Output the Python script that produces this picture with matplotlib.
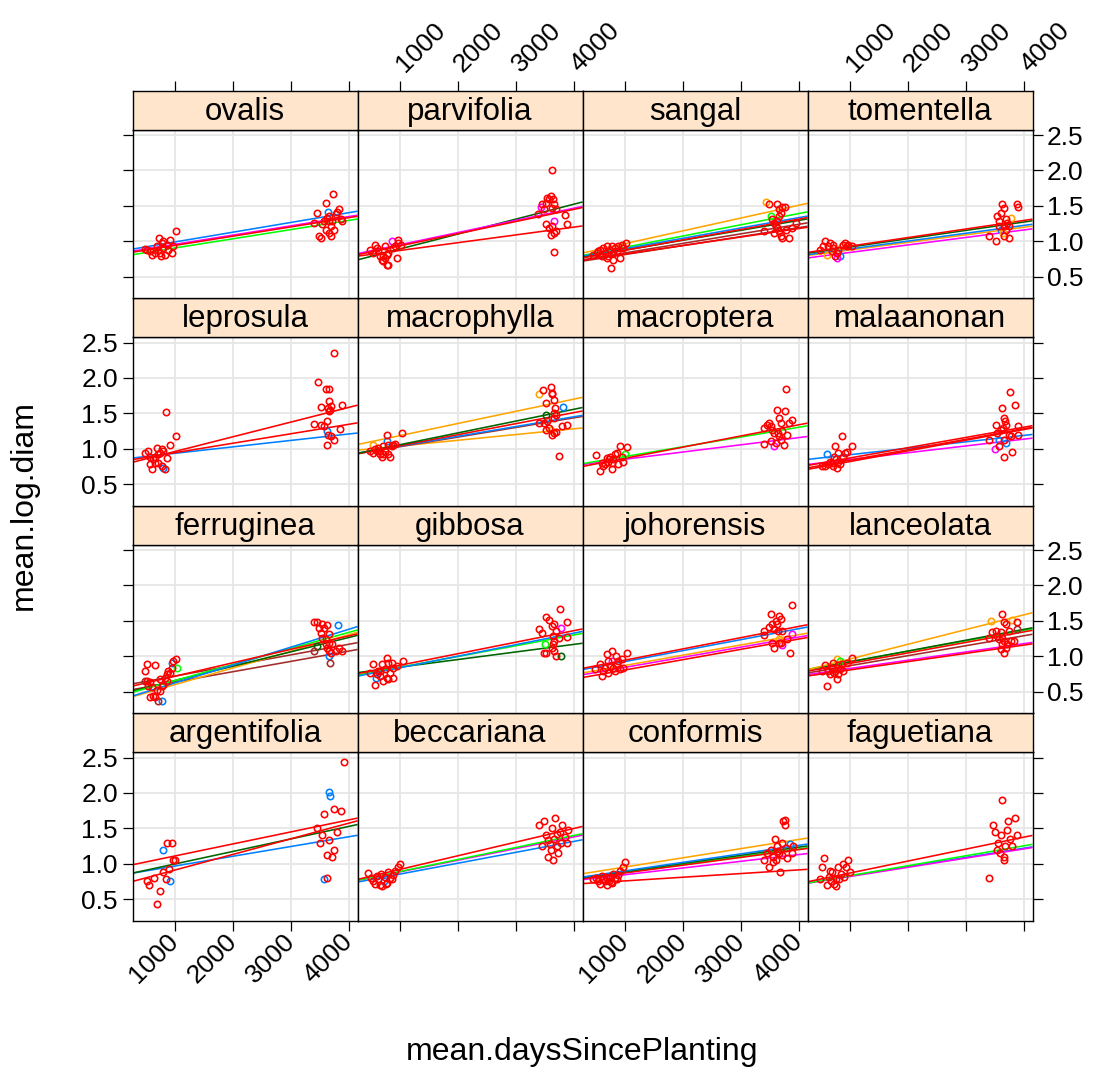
import numpy as np
import matplotlib
matplotlib.use("Agg")
import matplotlib.pyplot as plt

plt.rcParams['font.family'] = ['Liberation Sans', 'DejaVu Sans']

# lattice superpose colours, keyed by short code
PALETTE = {"b": "#0080ff", "m": "#ff00ff", "g": "#006400", "r": "#ff0000",
           "o": "#ffa500", "l": "#00ff00", "n": "#a52a2a"}

# panel order (lattice fills from the bottom-left row upward)
species = ["argentifolia", "beccariana", "conformis", "faguetiana",
           "ferruginea", "gibbosa", "johorensis", "lanceolata",
           "leprosula", "macrophylla", "macroptera", "malaanonan",
           "ovalis", "parvifolia", "sangal", "tomentella"]

x_ticks = [1000, 2000, 3000, 4000]
y_ticks = [0.5, 1.0, 1.5, 2.0, 2.5]
XLIM = (271, 4146)
YLIM = (0.199, 2.578)

# ---- per-species observations: days, mean log diameter, group colour code
# ---- and fitted lines: (colour code, intercept, slope per 1000 days)

ovalis_x = [515, 600, 686, 732, 743, 772, 800, 829, 857, 886, 914, 943, 960, 1017, 572, 657, 755, 800, 715, 486,
            3398, 3455, 3484, 3512, 3541, 3570, 3598, 3598, 3627, 3638, 3655, 3655, 3684, 3712, 3724, 3741, 3769,
            3798, 3827, 3855, 3884, 3684, 3655]
ovalis_y = [0.88, 0.80, 0.93, 1.05, 0.84, 0.98, 0.91, 0.81, 0.95, 0.88, 1.02, 0.84, 0.93, 1.14, 0.86, 0.84, 0.79, 1.00, 0.88, 0.89,
            1.26, 1.40, 1.07, 1.05, 1.24, 1.28, 1.54, 1.16, 1.33, 1.42, 1.35, 1.12, 1.21, 1.28, 1.67, 1.16, 1.38,
            1.42, 1.45, 1.31, 1.28, 1.07, 1.28]
ovalis_c = "rrrrrrrrrrrrrrrrrrrr" + "rrrrrrrrrbrrrrrrrrrrrrr"
ovalis_fits = [("l", 0.775, 0.130), ("m", 0.825, 0.131), ("b", 0.852, 0.138), ("r", 0.810, 0.131)]

parvifolia_x = [486, 543, 572, 600, 629, 657, 686, 715, 743, 772, 772, 800, 800, 857, 886, 914, 943, 960, 971, 1017, 715, 743,
                3381, 3427, 3455, 3484, 3512, 3541, 3570, 3598, 3627, 3627, 3644, 3655, 3655, 3512, 3570, 3627, 3655,
                3684, 3598, 3838, 3884, 3655, 3684]
parvifolia_y = [0.88, 0.84, 0.95, 0.91, 0.86, 0.79, 0.74, 0.72, 0.93, 0.81, 0.67, 0.84, 0.67, 1.00, 0.91, 0.93, 0.76, 1.02, 0.98, 0.95, 0.79, 0.76,
                1.38, 1.49, 1.52, 1.45, 1.54, 1.61, 1.59, 1.64, 2.01, 1.47, 1.59, 0.85, 1.28, 1.24, 1.19, 1.21, 1.12,
                1.14, 1.09, 1.37, 1.24, 1.52, 1.45]
parvifolia_c = "rrrrrrrrrrrrrmrrrrrrrr" + "rmrrrrrrrrrrmrrrrrrrrrr"
parvifolia_fits = [("g", 0.680, 0.211), ("m", 0.779, 0.172), ("r", 0.763, 0.172), ("r", 0.760, 0.110)]

sangal_x = [458, 515, 543, 572, 600, 629, 657, 686, 715, 743, 755, 772, 800, 829, 857, 886, 914, 943, 971, 1017, 686, 800,
            3427, 3484, 3627, 3655, 3684, 3712, 3758, 3512, 3541, 3570, 3598, 3627, 3655, 3684, 3712, 3398, 3570,
            3769, 3827, 3884, 3941, 3627, 3655]
sangal_y = [0.81, 0.84, 0.86, 0.88, 0.79, 0.91, 0.84, 0.93, 0.79, 0.88, 0.62, 0.93, 0.84, 0.91, 0.86, 0.93, 0.76, 0.95, 0.91, 0.98, 0.76, 0.74,
            1.56, 1.52, 1.52, 1.45, 1.40, 1.49, 1.49, 1.35, 1.31, 1.26, 1.21, 1.19, 1.14, 1.07, 1.05, 1.14, 1.12,
            1.16, 1.05, 1.19, 1.26, 1.28, 1.35]
sangal_c = "rrrrrrrrrrrrrrrrrrrrrr" + "orrrrrrlrrrrrrrrrrrrrrr"
sangal_fits = [("o", 0.785, 0.181), ("l", 0.756, 0.159), ("b", 0.750, 0.146), ("g", 0.735, 0.140),
               ("r", 0.725, 0.147), ("n", 0.700, 0.135), ("n", 0.685, 0.127), ("r", 0.700, 0.120)]

tomentella_x = [486, 543, 572, 600, 629, 657, 686, 715, 743, 772, 800, 829, 857, 886, 914, 943, 971, 1029, 772, 715,
                3398, 3512, 3541, 3570, 3598, 3627, 3655, 3655, 3684, 3644, 3712, 3741, 3769, 3741, 3884, 3895,
                3655, 3598, 3684, 3570]
tomentella_y = [0.88, 0.93, 1.00, 0.81, 0.93, 0.98, 0.86, 0.91, 0.79, 0.76, 0.88, 0.79, 0.93, 0.95, 0.98, 0.93, 0.95, 0.93, 0.84, 0.95,
                1.08, 1.01, 1.35, 1.28, 1.40, 1.52, 1.47, 1.21, 1.31, 1.12, 1.26, 1.21, 1.33, 1.04, 1.52, 1.48,
                1.07, 1.16, 1.16, 1.21]
tomentella_c = "rrrorrrrrmrborrrrrrr" + "rrrrrrrrrorrorrrrbrr"
tomentella_fits = [("m", 0.736, 0.106), ("o", 0.770, 0.107), ("b", 0.780, 0.111), ("g", 0.800, 0.118), ("r", 0.810, 0.121)]

leprosula_x = [486, 543, 572, 600, 629, 657, 686, 715, 743, 772, 800, 800, 829, 857, 846, 914, 1017, 572, 657, 715, 772,
               3472, 3598, 3655, 3741, 3512, 3655, 3644, 3655, 3684, 3884, 3398, 3512, 3570, 3627, 3838, 3627,
               3644, 3684, 3615, 3741, 3672]
leprosula_y = [0.94, 0.97, 0.78, 0.71, 0.85, 0.89, 1.01, 0.80, 0.94, 0.75, 0.73, 0.97, 0.71, 0.87, 1.52, 1.05, 1.18, 0.89, 0.80, 0.92, 0.99,
               1.94, 1.84, 1.85, 2.35, 1.59, 1.68, 1.58, 1.53, 1.60, 1.62, 1.35, 1.33, 1.32, 1.39, 1.28, 1.25,
               1.20, 1.18, 1.05, 1.12, 1.55]
leprosula_c = "rrrrrrrrrrbrrrrrrrrrr" + "rrrrrrrrrrrrrrrbrrrrr"
leprosula_fits = [("b", 0.845, 0.091), ("r", 0.810, 0.134), ("r", 0.753, 0.208)]

macrophylla_x = [486, 543, 572, 600, 629, 657, 686, 715, 743, 772, 772, 800, 800, 829, 857, 886, 914, 1029, 543, 657, 715,
                 3398, 3472, 3598, 3627, 3655, 3615, 3512, 3667, 3815, 3512, 3541, 3398, 3484, 3512, 3570, 3655,
                 3655, 3684, 3627, 3655, 3684, 3741, 3798, 3884, 3598]
macrophylla_y = [0.97, 0.94, 0.99, 0.97, 1.01, 0.92, 0.89, 1.04, 0.97, 1.20, 1.11, 0.92, 1.06, 0.89, 1.04, 1.06, 1.07, 1.22, 1.06, 0.97, 0.92,
                 1.77, 1.83, 1.87, 1.77, 1.69, 1.79, 1.64, 1.58, 1.59, 1.48, 1.39, 1.36, 1.37, 1.27, 1.29, 1.51,
                 1.44, 1.48, 1.20, 1.22, 1.23, 0.90, 1.32, 1.34, 1.26]
macrophylla_c = "rrrrrrrrrrbrrrrrrrorr" + "orrrrrrrbgrrrrrrrrrrrrrro"
macrophylla_fits = [("o", 0.958, 0.081), ("n", 0.893, 0.136), ("b", 0.900, 0.138), ("r", 0.887, 0.156),
                    ("g", 0.890, 0.167), ("o", 1.013, 0.172)]

macroptera_x = [503, 572, 600, 629, 686, 715, 743, 772, 783, 800, 829, 857, 886, 914, 943, 971, 1040, 657, 732, 1000,
                3398, 3455, 3484, 3512, 3541, 3570, 3627, 3655, 3684, 3752, 3781, 3598, 3570, 3398, 3512, 3684,
                3741, 3798, 3827, 3884, 3638, 3655, 3712]
macroptera_y = [0.91, 0.68, 0.80, 0.75, 0.87, 0.82, 0.89, 0.80, 0.72, 0.85, 0.92, 0.94, 0.78, 1.04, 0.89, 0.82, 1.02, 0.78, 0.85, 0.93,
                1.29, 1.34, 1.37, 1.32, 1.27, 1.22, 1.55, 1.44, 1.37, 1.54, 1.85, 1.08, 1.04, 1.07, 1.11, 1.13,
                1.05, 1.19, 1.36, 1.41, 1.22, 1.18, 1.25]
macroptera_c = "rrrrrrrrrrrrrrrrrrrl" + "rrrrrrrrrrrrmrrrrrrrrrr"
macroptera_fits = [("m", 0.750, 0.102), ("l", 0.752, 0.138), ("r", 0.707, 0.158)]

malaanonan_x = [515, 600, 629, 686, 715, 743, 760, 772, 789, 800, 829, 857, 886, 914, 943, 1029, 572, 657, 732,
                3398, 3512, 3541, 3570, 3598, 3627, 3655, 3672, 3684, 3644, 3655, 3684, 3570, 3495, 3655, 3798,
                3758, 3838, 3895, 3895, 3741, 3769]
malaanonan_y = [0.75, 0.93, 0.78, 0.80, 0.75, 1.04, 0.85, 0.73, 0.94, 0.82, 0.78, 1.18, 0.89, 0.94, 0.96, 1.04, 0.75, 0.82, 0.89,
                1.12, 1.33, 1.22, 1.13, 1.27, 1.57, 1.44, 1.39, 1.34, 1.29, 1.13, 1.08, 1.04, 0.99, 0.89, 0.96,
                1.80, 1.62, 1.32, 1.19, 1.20, 1.18]
malaanonan_c = "rbrrrrrrrrrrrrrrrrr" + "rrrbrrrrrrrbrmrrrrrrrr"
malaanonan_fits = [("b", 0.825, 0.091), ("m", 0.752, 0.096), ("r", 0.668, 0.151), ("r", 0.690, 0.148), ("r", 0.725, 0.145)]

ferruginea_x = [486, 515, 657, 515, 543, 572, 600, 629, 657, 686, 715, 743, 772, 772, 800, 829, 857, 886, 914, 943, 943, 971,
                1017, 1029, 572, 743, 857, 486,
                3398, 3455, 3484, 3541, 3570, 3627, 3655, 3815, 3512, 3541, 3598, 3627, 3655, 3684, 3655, 3672,
                3398, 3455, 3712, 3769, 3827, 3884, 3598, 3655]
ferruginea_y = [0.79, 0.89, 0.88, 0.65, 0.58, 0.63, 0.56, 0.44, 0.42, 0.53, 0.37, 0.51, 0.58, 0.37, 0.60, 0.70, 0.75, 0.79, 0.77, 0.91, 0.84, 0.93,
                0.96, 0.84, 0.42, 0.68, 0.65, 0.65,
                1.49, 1.49, 1.40, 1.45, 1.40, 1.44, 1.31, 1.44, 1.33, 1.26, 1.17, 1.12, 1.08, 1.05, 1.00, 0.91,
                1.08, 1.15, 1.17, 1.08, 1.12, 1.08, 1.24, 1.19]
ferruginea_c = "rrrrrrrrrrnrrbrrrrrbrrrlrrrn" + "rrrrrrrbrrrrrrbnngrrrrrr"
ferruginea_fits = [("n", 0.490, 0.146), ("n", 0.570, 0.150), ("o", 0.365, 0.235), ("g", 0.454, 0.203),
                   ("l", 0.430, 0.227), ("b", 0.370, 0.253), ("r", 0.528, 0.190)]

gibbosa_x = [486, 543, 572, 600, 629, 657, 686, 715, 743, 772, 772, 800, 829, 857, 886, 886, 943, 1057, 583, 657, 800,
             3398, 3455, 3512, 3570, 3627, 3655, 3684, 3644, 3752, 3884, 3884, 3781, 3741, 3501, 3484, 3512,
             3644, 3655, 3684, 3769, 3627, 3655]
gibbosa_y = [0.77, 0.89, 0.60, 0.75, 0.79, 0.72, 0.89, 0.65, 0.82, 0.98, 0.70, 0.91, 0.77, 0.91, 0.70, 0.84, 0.86, 0.94, 0.70, 0.79, 0.68,
             1.38, 1.33, 1.56, 1.51, 1.43, 1.45, 1.36, 1.29, 1.67, 1.48, 1.27, 1.40, 1.26, 1.17, 1.04, 1.04,
             1.17, 1.08, 1.00, 1.00, 1.12, 1.22]
gibbosa_c = "rrrrrrrrrrrrrrrrrrbrr" + "rrrrrrrrrrrmrlrrrrrgrr"
gibbosa_fits = [("g", 0.740, 0.107), ("l", 0.693, 0.152), ("b", 0.675, 0.163), ("r", 0.710, 0.163)]

johorensis_x = [486, 572, 600, 657, 686, 715, 743, 772, 800, 829, 846, 857, 914, 943, 971, 1040, 772, 629, 715, 886,
                3398, 3398, 3484, 3512, 3541, 3570, 3598, 3627, 3655, 3684, 3644, 3655, 3541, 3570, 3655, 3684,
                3701, 3798, 3838, 3884, 3884, 3712]
johorensis_y = [0.82, 0.89, 0.72, 0.84, 1.03, 0.93, 0.86, 1.08, 0.84, 0.79, 1.00, 0.89, 0.82, 0.96, 0.84, 1.04, 0.93, 0.79, 0.77, 0.93,
                1.36, 1.30, 1.41, 1.59, 1.45, 1.38, 1.50, 1.45, 1.57, 1.52, 1.36, 1.24, 1.19, 1.12, 1.19, 1.19,
                1.16, 1.24, 1.05, 1.72, 1.31, 1.36]
johorensis_c = "rrrrrrrrrrrrrrrrmrrr" + "rrrrrrrrrrrorrrrmrrrmr"
johorensis_fits = [("m", 0.700, 0.143), ("o", 0.725, 0.145), ("b", 0.770, 0.155), ("r", 0.660, 0.146), ("r", 0.786, 0.159)]

lanceolata_x = [515, 572, 600, 657, 686, 715, 743, 772, 772, 800, 829, 857, 886, 943, 1029, 629, 732, 800, 829,
                3427, 3627, 3655, 3684, 3798, 3884, 3398, 3455, 3512, 3541, 3570, 3598, 3627, 3655, 3684, 3655,
                3712, 3769, 3827, 3884, 3741, 3627, 3598]
lanceolata_y = [0.79, 0.87, 0.58, 0.75, 0.84, 0.91, 0.79, 0.96, 0.68, 0.75, 0.82, 0.89, 0.79, 0.91, 0.98, 0.79, 0.77, 0.87, 0.93,
                1.50, 1.60, 1.48, 1.45, 1.51, 1.49, 1.26, 1.34, 1.36, 1.29, 1.24, 1.34, 1.26, 1.21, 1.12, 1.04,
                1.17, 1.21, 1.22, 1.38, 1.36, 1.17, 1.10]
lanceolata_c = "rrrrrrrorrrrrrrrrrl" + "orrrorrrrrrrrrrrrrrnrrr"
lanceolata_fits = [("m", 0.710, 0.117), ("r", 0.690, 0.117), ("n", 0.726, 0.141), ("l", 0.775, 0.148),
                   ("g", 0.768, 0.153), ("r", 0.749, 0.149), ("o", 0.753, 0.208)]

argentifolia_x = [520, 560, 640, 700, 745, 790, 800, 850, 865, 900, 915, 950, 960, 1000,
                  3916, 3659, 3676, 3744, 3864, 3573, 3453, 3539, 3659, 3744, 3624, 3710, 3573, 3624, 3500, 3800]
argentifolia_y = [0.75, 0.70, 0.80, 0.43, 0.61, 1.20, 0.88, 0.78, 1.30, 0.92, 0.75, 1.30, 1.05, 1.05,
                  2.43, 2.01, 1.95, 1.77, 1.74, 1.70, 1.51, 1.41, 1.34, 1.20, 1.13, 1.10, 0.78, 0.80, 1.30, 1.45]
argentifolia_c = "rrrrrbrrrrbrrr" + "rbbrrrrrrrrrbrrr"
argentifolia_fits = [("b", 0.830, 0.138), ("g", 0.820, 0.177), ("r", 0.690, 0.221), ("r", 0.940, 0.170)]

beccariana_x = [450, 500, 540, 580, 620, 650, 680, 700, 720, 750, 780, 800, 830, 860, 890, 920, 960, 1000, 600, 760,
                3400, 3450, 3480, 3520, 3550, 3580, 3600, 3620, 3650, 3680, 3700, 3720, 3750, 3780, 3800, 3850,
                3880, 3900, 3560, 3640, 3700]
beccariana_y = [0.87, 0.80, 0.75, 0.72, 0.78, 0.70, 0.85, 0.68, 0.76, 0.82, 0.73, 0.88, 0.80, 0.78, 0.84, 0.90, 0.95, 1.00, 0.83, 0.71,
                1.55, 1.25, 1.60, 1.40, 1.33, 1.28, 1.20, 1.50, 1.35, 1.65, 1.25, 1.15, 1.45, 1.30, 1.55, 1.38,
                1.30, 1.48, 1.10, 1.05, 1.42]
beccariana_c = "rrrrrrrrbrrrrrrrrrrr" + "rrrrrrrrrrrrrrrrrrrrr"
beccariana_fits = [("b", 0.700, 0.154), ("m", 0.720, 0.165), ("l", 0.720, 0.170), ("r", 0.727, 0.193)]

conformis_x = [450, 500, 540, 580, 620, 650, 680, 700, 720, 750, 780, 800, 830, 860, 890, 920, 960, 1000, 600, 760,
               3400, 3450, 3480, 3520, 3550, 3580, 3600, 3620, 3650, 3680, 3700, 3720, 3750, 3780, 3800, 3850,
               3880, 3900, 3560, 3640, 3700, 3760]
conformis_y = [0.78, 0.80, 0.75, 0.72, 0.78, 0.76, 0.82, 0.70, 0.76, 0.82, 0.73, 0.86, 0.80, 0.78, 0.84, 0.90, 0.95, 1.02, 0.83, 0.74,
               1.05, 1.15, 0.95, 1.20, 1.10, 1.35, 1.05, 1.25, 1.15, 0.88, 1.12, 1.60, 1.62, 1.22, 1.08, 1.28,
               1.15, 1.25, 1.02, 1.18, 1.30, 1.55]
conformis_c = "rrrrrrrrrrrrrrrrrrrr" + "rrrrrrrrrrrrrrrbrrrrrr"
conformis_fits = [("r", 0.706, 0.052), ("m", 0.750, 0.095), ("l", 0.770, 0.110), ("r", 0.760, 0.110),
                  ("g", 0.775, 0.115), ("b", 0.780, 0.120), ("o", 0.824, 0.130)]

faguetiana_x = [480, 520, 560, 600, 640, 680, 700, 730, 760, 790, 820, 850, 880, 900, 930, 960, 1000, 650, 770,
                3400, 3460, 3500, 3540, 3560, 3600, 3620, 3650, 3680, 3700, 3720, 3760, 3800, 3850, 3880, 3650, 3580]
faguetiana_y = [0.78, 0.95, 1.08, 0.70, 0.82, 0.75, 0.88, 0.72, 0.68, 0.95, 0.78, 0.85, 1.00, 0.82, 0.95, 1.05, 0.88, 0.90, 0.78,
                0.80, 1.55, 1.45, 1.20, 1.30, 1.40, 1.90, 1.10, 1.25, 1.48, 1.60, 1.35, 1.25, 1.65, 1.40, 1.05, 1.15]
faguetiana_c = "rrrrrrrrrrrrrrrrrrr" + "rrrrrrrrrrrrrrrrr"
faguetiana_fits = [("b", 0.700, 0.130), ("m", 0.690, 0.130), ("l", 0.690, 0.141), ("r", 0.700, 0.169)]

panels = {name: (globals()[name + "_x"], globals()[name + "_y"],
                 globals()[name + "_c"], globals()[name + "_fits"]) for name in species}

# ---- layout (pixels on a 1105 x 1068 canvas)
W, H = 1105, 1068
fig = plt.figure(figsize=(W / 100, H / 100), dpi=100)
PX0, PW = 132.5, 225.0
PY0, PH, STRIP, PITCH = 129.5, 168.5, 39.0, 207.5

TICK_FS = 19
TICK_LEN = 7.5


def rotate_x_labels(axis_obj):
    for t in axis_obj.xaxis.get_major_ticks():
        t.label1.set_rotation(45)
        t.label1.set_ha("right")
        t.label1.set_va("center")
        t.label1.set_rotation_mode("anchor")
        t.label2.set_rotation(45)
        t.label2.set_ha("left")
        t.label2.set_va("center")
        t.label2.set_rotation_mode("anchor")


for idx, name in enumerate(species):
    col = idx % 4
    row = 3 - idx // 4           # row counted from the top
    left = PX0 + col * PW
    top = PY0 + row * PITCH
    ax = fig.add_axes([left / W, 1 - (top + PH) / H, PW / W, PH / H])
    sax = fig.add_axes([left / W, 1 - top / H, PW / W, STRIP / H])

    xs, ys, cs, fits = panels[name]
    ax.set_xlim(*XLIM)
    ax.set_ylim(*YLIM)
    ax.set_xticks(x_ticks)
    ax.set_yticks(y_ticks)
    ax.grid(True, color="#e6e6e6", lw=1.3)
    ax.set_axisbelow(True)

    xx = np.array(XLIM, dtype=float)
    for code, a, b in fits:
        ax.plot(xx, a + b * xx / 1000.0, color=PALETTE[code], lw=1.15, zorder=2,
                solid_capstyle="butt")

    xs = np.asarray(xs); ys = np.asarray(ys); cs = np.array(list(cs))
    for code in ["b", "m", "g", "o", "l", "n", "r"]:
        sel = cs == code
        if sel.any():
            ax.plot(xs[sel], ys[sel], ls="none", marker="o", ms=4.6, mfc="none",
                    mec=PALETTE[code], mew=1.15, zorder=3)

    for sp in ax.spines.values():
        sp.set_linewidth(1.0)
    ax.tick_params(direction="out", length=TICK_LEN, width=0.9, labelsize=TICK_FS,
                   left=(col == 0), right=(col == 3), top=False, bottom=(row == 3),
                   labelleft=(col == 0 and row in (1, 3)),
                   labelright=(col == 3 and row in (0, 2)),
                   labeltop=False,
                   labelbottom=(row == 3 and col in (0, 2)), pad=3)
    ax.tick_params(axis="x", pad=5)
    ax.set_yticklabels([f"{v:.1f}" for v in y_ticks])
    ax.set_xticklabels([str(v) for v in x_ticks])
    rotate_x_labels(ax)

    # strip with the species name; the top row carries the upper x axis
    sax.set_facecolor("#ffe5cc")
    sax.set_xlim(*XLIM)
    sax.set_ylim(0, 1)
    sax.set_yticks([])
    sax.set_xticks(x_ticks)
    sax.set_xticklabels([str(v) for v in x_ticks])
    sax.tick_params(direction="out", length=TICK_LEN, width=0.9, labelsize=TICK_FS,
                    bottom=False, labelbottom=False,
                    top=(row == 0), labeltop=(row == 0 and col in (1, 3)), pad=9)
    rotate_x_labels(sax)
    for sp in sax.spines.values():
        sp.set_linewidth(1.0)
    sax.text(0.5, 0.45, name, ha="center", va="center", fontsize=22.5,
             transform=sax.transAxes)

fig.text(582.5 / W, 1 - 1052 / H, "mean.daysSincePlanting", ha="center", va="center", fontsize=23)
fig.text(24 / W, 1 - 505.5 / H, "mean.log.diam", ha="center", va="center", fontsize=23, rotation=90)

fig.savefig("out.png", dpi=100)
